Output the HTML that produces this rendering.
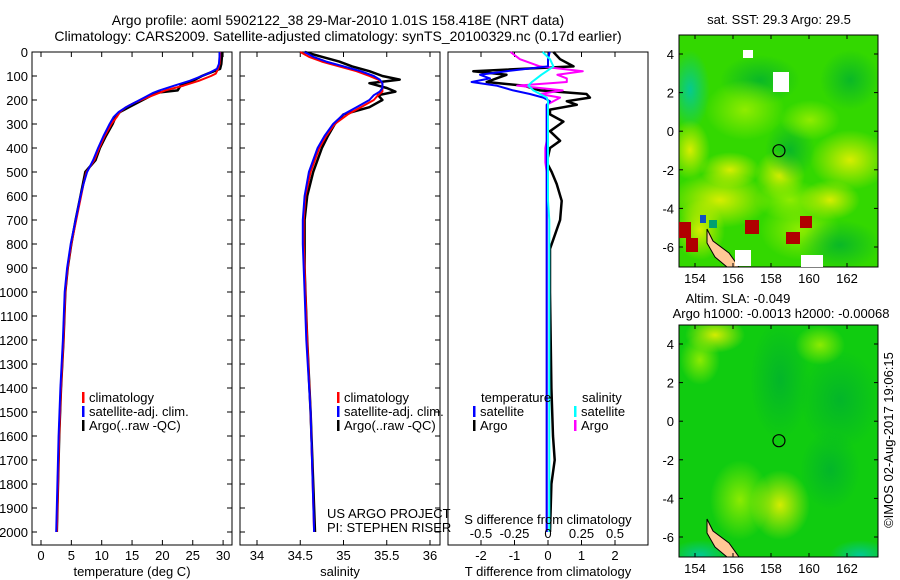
<!DOCTYPE html>
<html><head><meta charset="utf-8"><style>
body{margin:0;background:#fff;}
svg{display:block;font-family:"Liberation Sans",sans-serif;}
</style></head><body>
<svg id="c" width="900" height="580" viewBox="0 0 900 580">
<defs>
<radialGradient id="yb"><stop offset="0" stop-color="#e8f000" stop-opacity="0.9"/><stop offset="1" stop-color="#e8f000" stop-opacity="0"/></radialGradient>
<radialGradient id="lb"><stop offset="0" stop-color="#99ee00" stop-opacity="0.9"/><stop offset="1" stop-color="#99ee00" stop-opacity="0"/></radialGradient>
<radialGradient id="db"><stop offset="0" stop-color="#00b030" stop-opacity="0.8"/><stop offset="1" stop-color="#00b030" stop-opacity="0"/></radialGradient>
<radialGradient id="tb"><stop offset="0" stop-color="#00c8a0" stop-opacity="0.9"/><stop offset="1" stop-color="#00c8a0" stop-opacity="0"/></radialGradient>
</defs>
<text x="338" y="25" font-size="14" text-anchor="middle">Argo profile: aoml 5902122_38 29-Mar-2010 1.01S 158.418E (NRT data)</text>
<text x="338" y="41" font-size="14" text-anchor="middle">Climatology: CARS2009. Satellite-adjusted climatology: synTS_20100329.nc (0.17d earlier)</text>
<g id="p1"></g>
<g id="p2"></g>
<g id="p3"></g>
<g id="m1"></g>
<g id="m2"></g>
</svg>
<script>
const NS="http://www.w3.org/2000/svg";
const svg=document.getElementById('c');
function el(tag,attrs,parent,text){const e=document.createElementNS(NS,tag);for(const k in attrs)e.setAttribute(k,attrs[k]);if(text!==undefined)e.textContent=text;(parent||svg).appendChild(e);return e;}

// ---- data ----
const tDepths=[0,20,50,70,90,100,120,140,160,170,190,210,230,250,270,300,350,400,450,500,550,600,700,800,900,1000,1200,1400,1600,1800,2000];
const tArgo=[29.8,29.8,29.7,29.5,27.5,26.5,25,23,22.5,19,17.5,16,14.5,13,12.3,11.8,10.7,9.7,9.0,7.3,6.9,6.5,5.7,5.0,4.4,4.0,3.7,3.3,3.0,2.8,2.6];
const tClim=[29.5,29.5,29.4,29.2,28.8,28,26,23.5,20.5,19.5,17.5,15.5,14,13,12.5,11.6,10.5,9.6,8.8,7.5,7.0,6.6,5.8,5.0,4.4,4.0,3.7,3.3,3.0,2.8,2.6];
const tSat=[29.4,29.4,29.3,29,27.5,26.5,24.5,22,19.5,18.5,17,15.5,14,12.8,12,11.3,10.3,9.4,8.6,7.6,7.0,6.5,5.7,4.9,4.3,3.9,3.6,3.2,2.9,2.7,2.5];
const sDepths=[0,20,40,60,80,100,115,130,150,165,180,200,230,260,300,350,400,500,600,700,800,900,1000,1200,1500,2000];
const sArgo=[34.55,34.75,34.95,35.1,35.3,35.45,35.65,35.3,35.5,35.6,35.4,35.45,35.3,35.0,34.9,34.82,34.75,34.65,34.58,34.55,34.55,34.55,34.56,34.58,34.62,34.67];
const sClim=[34.5,34.6,34.75,34.95,35.15,35.3,35.4,35.45,35.45,35.45,35.4,35.35,35.2,35.05,34.9,34.8,34.72,34.62,34.56,34.54,34.54,34.55,34.56,34.58,34.62,34.66];
const sSat=[34.55,34.65,34.8,35.0,35.2,35.35,35.42,35.45,35.45,35.42,35.35,35.3,35.15,35.0,34.88,34.78,34.7,34.6,34.55,34.53,34.53,34.54,34.55,34.57,34.62,34.66];
const dDepths=[0,30,60,80,95,110,125,140,160,175,190,205,220,240,260,290,330,370,400,460,500,550,620,700,780,820,900,1000,1200,1400,1600,1700,1800,2000];
const dTArgo=[0.16,0.36,0.76,-2.23,-1.24,-1.54,-1.83,-0.74,-0.24,1.15,1.25,0.56,0.86,0.06,0.06,0.46,0.06,0.36,0.06,-0.04,0.11,0.26,0.41,0.36,0.16,0.06,0.06,0.06,0.08,0.1,0.15,0.2,0.1,0.06];
const dTSat=[0.05,0.0,0.0,-1.24,-2.03,-1.73,-2.28,-1.54,-1.04,-0.54,-0.14,0.06,-0.04,-0.04,-0.04,-0.04,-0.04,-0.04,-0.04,-0.04,-0.04,-0.04,-0.04,-0.04,-0.04,-0.04,-0.04,-0.04,-0.04,-0.04,-0.04,-0.04,-0.04,-0.04];
const dSArgo=[-0.28,-0.21,-0.06,0.26,0.07,0.14,0.14,-0.23,0.11,-0.06,0.09,0.04,-0.01,-0.01,-0.01,-0.01,-0.01,-0.01,-0.02,-0.02,-0.01,-0.01,-0.01,-0.01,-0.01,-0.01,-0.01,-0.01,-0.01,-0.01,-0.01,-0.01,-0.01,-0.01];
const dSSat=[-0.04,0.015,0.04,-0.01,-0.05,-0.085,-0.12,-0.147,-0.11,-0.06,-0.01,0.0,0.0,0.0,0.0,0.0,0.0,0.0,0.0,0.0,0.0,0.0,0.0,0.01,0.01,0.01,0.01,0.01,0.01,0.01,0.01,0.01,0.01,0.01];
const depthTicks=[0,100,200,300,400,500,600,700,800,900,1000,1100,1200,1300,1400,1500,1600,1700,1800,1900,2000];
const tempTicks=[0,5,10,15,20,25,30];
const salTicks=[34,34.5,35,35.5,36];
const salTickLabels=["34","34.5","35","35.5","36"];
const tdTicks=[-2,-1,0,1,2];
const sdTicks=[-0.5,-0.25,0,0.25,0.5];
const sdTickLabels=["-0.5","-0.25","0","0.25","0.5"];
const lonTicks=[154,156,158,160,162];
const latTicks=[4,2,0,-2,-4,-6];
const profLon=158.418, profLat=-1.01;

// ---- scales ----
const Y=d=>52+d*0.24;
const xT=t=>41+t*6.07;
const xS=s=>257+(s-34)*86.5;
const xTD=v=>548+v*33.5;
const xSD=v=>548+v*134;
const FS=13;

function frame(g,x0,x1,y0,y1,name){const r=el('rect',{x:x0,y:y0,width:x1-x0,height:y1-y0,fill:'none',stroke:'#000','stroke-width':1},g);}
function line(g,xs,ys,xf,color,name,w){
  const pts=xs.map((v,i)=>xf(v).toFixed(1)+','+Y(ys[i]).toFixed(1)).join(' ');
  const p=el('polyline',{points:pts,fill:'none',stroke:color,'stroke-width':w||2,'stroke-linejoin':'round'},g);
  
}
function xticks(g,ticks,labels,f,y0,y1,ly,name){
  ticks.forEach((t,i)=>{const x=f(t);
    el('line',{x1:x,x2:x,y1:y1,y2:y1-5,stroke:'#000'},g);
    el('line',{x1:x,x2:x,y1:y0,y2:y0+5,stroke:'#000'},g);
    const tx=el('text',{x:x,y:ly,'font-size':FS,'text-anchor':'middle'},g,labels[i]);
    });
}
function legendEntry(g,x,y,color,label){
  const r=el('rect',{x:x,y:y-10,width:2.5,height:11,fill:color},g);
  
  const t=el('text',{x:x+7,y:y,'font-size':FS},g,label);
  
}

// ---- panel 1 ----
const p1=document.getElementById('p1');
frame(p1,32,232,52,545,'temperature-plot-frame');
depthTicks.forEach(d=>{el('line',{x1:32,x2:37,y1:Y(d),y2:Y(d),stroke:'#000'},p1);el('line',{x1:232,x2:227,y1:Y(d),y2:Y(d),stroke:'#000'},p1);
  const t=el('text',{x:28,y:Y(d)+5,'font-size':FS,'text-anchor':'end'},p1,String(d));
  });
xticks(p1,tempTicks,tempTicks.map(String),xT,52,545,560,'temperature-tick-label');
const x1t=el('text',{x:132,y:576,'font-size':FS,'text-anchor':'middle'},p1,'temperature (deg C)');

line(p1,tArgo,tDepths,xT,'#000','argo-temperature-line',2.5);
line(p1,tClim,tDepths,xT,'#f00','climatology-temperature-line');
line(p1,tSat,tDepths,xT,'#00f','satellite-temperature-line');
legendEntry(p1,82,402,'#f00','climatology');
legendEntry(p1,82,416,'#00f','satellite-adj. clim.');
legendEntry(p1,82,430,'#000','Argo(..raw -QC)');

// ---- panel 2 ----
const p2=document.getElementById('p2');
frame(p2,240,440,52,545,'salinity-plot-frame');
depthTicks.forEach(d=>{el('line',{x1:240,x2:245,y1:Y(d),y2:Y(d),stroke:'#000'},p2);el('line',{x1:440,x2:435,y1:Y(d),y2:Y(d),stroke:'#000'},p2);});
xticks(p2,salTicks,salTickLabels,xS,52,545,560,'salinity-tick-label');
const x2t=el('text',{x:340,y:576,'font-size':FS,'text-anchor':'middle'},p2,'salinity');

line(p2,sArgo,sDepths,xS,'#000','argo-salinity-line',2.5);
line(p2,sClim,sDepths,xS,'#f00','climatology-salinity-line');
line(p2,sSat,sDepths,xS,'#00f','satellite-salinity-line');
legendEntry(p2,337,402,'#f00','climatology');
legendEntry(p2,337,416,'#00f','satellite-adj. clim.');
legendEntry(p2,337,430,'#000','Argo(..raw -QC)');
const pr1=el('text',{x:327,y:518,'font-size':FS},p2,'US ARGO PROJECT');
const pr2=el('text',{x:327,y:532,'font-size':FS},p2,'PI: STEPHEN RISER');

// ---- panel 3 ----
const p3=document.getElementById('p3');
frame(p3,448,648,52,545,'difference-plot-frame');
tdTicks.forEach(t=>{const x=xTD(t);el('line',{x1:x,x2:x,y1:545,y2:540,stroke:'#000'},p3);el('line',{x1:x,x2:x,y1:52,y2:57,stroke:'#000'},p3);
  const tx=el('text',{x:x,y:560,'font-size':FS,'text-anchor':'middle'},p3,String(t));});
line(p3,dTArgo,dDepths,xTD,'#000','argo-t-diff-line',2.5);
line(p3,dSArgo,dDepths,xSD,'#f0f','argo-s-diff-line');
line(p3,dTSat,dDepths,xTD,'#00f','satellite-t-diff-line');
line(p3,dSSat,dDepths,xSD,'#0ff','satellite-s-diff-line');
const sdt=el('text',{x:548,y:524,'font-size':FS,'text-anchor':'middle'},p3,'S difference from climatology');
sdTicks.forEach((t,i)=>{const tx=el('text',{x:xSD(t),y:538,'font-size':FS,'text-anchor':'middle'},p3,sdTickLabels[i]);});
const tdt=el('text',{x:548,y:576,'font-size':FS,'text-anchor':'middle'},p3,'T difference from climatology');
const h1=el('text',{x:481,y:402,'font-size':FS},p3,'temperature');
const h2=el('text',{x:582,y:402,'font-size':FS},p3,'salinity');
legendEntry(p3,473,416,'#00f','satellite');
legendEntry(p3,473,430,'#000','Argo');
legendEntry(p3,574,416,'#0ff','satellite');
legendEntry(p3,574,430,'#f0f','Argo');

// ---- maps ----
function map(g,y0,base,blobs,title1,name){
  const x0=679,x1=878,y1=y0+232;
  const lonX=l=>695+(l-154)*19;
  const latY=l=>y0+19+(4-l)*19.3;
  const clip='clip'+name;
  const cp=el('clipPath',{id:clip},g);el('rect',{x:x0,y:y0,width:x1-x0,height:y1-y0},cp);
  const gg=el('g',{'clip-path':'url(#'+clip+')'},g);
  const bg=el('rect',{x:x0,y:y0,width:x1-x0,height:y1-y0,fill:base},gg);
  blobs.forEach(b=>el('ellipse',{cx:b[0],cy:b[1],rx:b[2],ry:b[3],fill:'url(#'+b[4]+')'},gg));
  const isl=el('path',{d:`M${x0+28},${y1-38} L${x0+34},${y1-26} L${x0+50},${y1-14} L${x0+60},${y1} L${x0+48},${y1} L${x0+36},${y1-10} L${x0+28},${y1-24} Z`,fill:'#ffc896',stroke:'#000','stroke-width':1},gg);
  
  const c=el('circle',{cx:lonX(profLon),cy:latY(profLat),r:6,fill:'none',stroke:'#000','stroke-width':1.2},g);
  
  el('rect',{x:x0,y:y0,width:x1-x0,height:y1-y0,fill:'none',stroke:'#000'},g);
  lonTicks.forEach(l=>{const x=lonX(l);el('line',{x1:x,x2:x,y1:y0,y2:y0+4,stroke:'#000'},g);el('line',{x1:x,x2:x,y1:y1,y2:y1-4,stroke:'#000'},g);
    const t=el('text',{x:x,y:y1+16,'font-size':FS,'text-anchor':'middle'},g,String(l));});
  latTicks.forEach(l=>{const y=latY(l);el('line',{x1:x0,x2:x0+4,y1:y,y2:y,stroke:'#000'},g);el('line',{x1:x1,x2:x1-4,y1:y,y2:y,stroke:'#000'},g);
    const t=el('text',{x:x0-5,y:y+5,'font-size':FS,'text-anchor':'end'},g,String(l));});
  title1.forEach(tt=>{const t=el('text',{x:tt[0],y:tt[1],'font-size':FS,'text-anchor':'middle'},g,tt[2]);});
}
map(document.getElementById('m1'),35,'#33d800',[
 [690,90,20,40,'tb'],[760,80,40,25,'db'],[720,200,50,28,'yb'],[745,110,40,30,'lb'],[780,175,25,25,'yb'],[850,160,40,30,'yb'],[800,230,40,30,'lb'],[730,170,30,18,'yb'],
 [790,150,25,30,'db'],[850,80,30,30,'db'],[840,245,40,25,'db'],[700,230,25,30,'yb'],[790,200,35,20,'lb'],[810,120,30,20,'lb'],[690,150,20,30,'yb'],[830,200,30,20,'yb']],
 [[779,24,'sat. SST: 29.3 Argo: 29.5']],'1');
const m1=document.getElementById('m1');
[[679,222,12,16,'#b00000'],[686,238,12,14,'#b00000'],[745,220,14,14,'#b00000'],[786,232,14,12,'#b00000'],[800,216,12,12,'#b00000'],[773,72,16,20,'#fff'],[801,255,22,12,'#fff'],[743,50,10,8,'#fff'],[735,250,16,16,'#fff'],[700,215,6,8,'#1050c0'],[709,220,8,8,'#00a070']].forEach(r=>{
 const e=el('rect',{x:r[0],y:r[1],width:r[2],height:r[3],fill:r[4]},m1);});
map(document.getElementById('m2'),325,'#10cc10',[
 [715,335,30,18,'yb'],[780,380,30,60,'db'],[840,400,40,50,'db'],[740,500,30,40,'lb'],[780,505,30,35,'yb'],[820,345,25,20,'lb'],[700,360,20,25,'lb'],[700,555,30,15,'tb'],[860,555,30,15,'tb'],[830,470,30,40,'db']],
 [[738,303,'Altim. SLA: -0.049'],[781,318,'Argo h1000: -0.0013 h2000: -0.00068']],'2');
const ts=el('text',{x:893,y:440,'font-size':FS,'text-anchor':'middle',transform:'rotate(-90 893 440)'},svg,'©IMOS 02-Aug-2017 19:06:15');

</script>
</body></html>
